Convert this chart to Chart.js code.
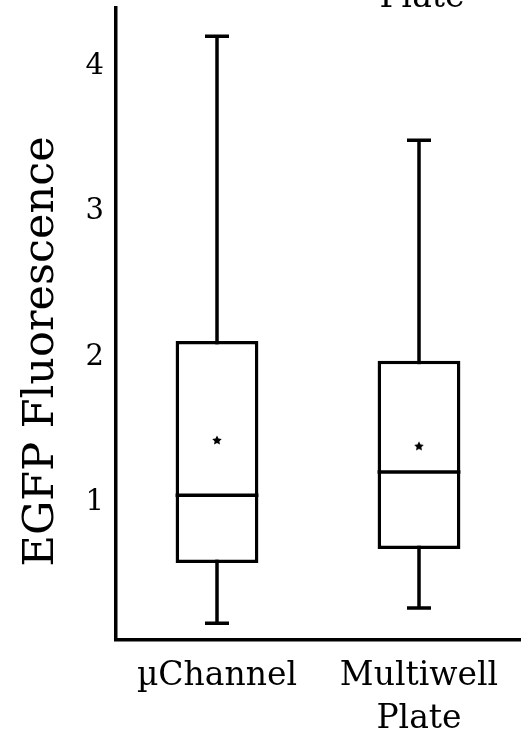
<!DOCTYPE html>
<html>
<head>
<meta charset="utf-8">
<script src="https://cdn.jsdelivr.net/npm/chart.js@4"></script>
<style>
  html, body { margin: 0; padding: 0; background: #fff; }
  #wrap { width: 532px; height: 736px; }
</style>
</head>
<body>
<div id="wrap"><canvas id="boxCanvas" width="532" height="736"></canvas></div>
<script>
// 카테고리
const categories = ['µChannel', ['Multiwell', 'Plate']];
// 박스플롯 값
const whiskerLow = [0.17, 0.275];
const q1 = [0.585, 0.68];
const median = [1.05, 1.21];
const q3 = [2.11, 1.975];
const whiskerHigh = [4.205, 3.49];
const mean = [1.43, 1.39];
// y축 눈금
const yTicks = [1, 2, 3, 4];

const serif = "'DejaVu Serif', serif";
const lineW = 3.5;
Chart.defaults.color = '#000';

// 평균 표시용 채워진 별
function makeStar(size) {
    const c = document.createElement('canvas');
    c.width = size;
    c.height = size;
    const g = c.getContext('2d');
    const r = size / 2, ri = r * 0.5;
    g.beginPath();
    for (let k = 0; k < 10; k++) {
        const rad = k % 2 === 0 ? r : ri;
        const a = -Math.PI / 2 + k * Math.PI / 5;
        const px = r + rad * Math.cos(a);
        const py = r + rad * Math.sin(a) + 0.5;
        if (k === 0) g.moveTo(px, py); else g.lineTo(px, py);
    }
    g.closePath();
    g.fillStyle = '#000';
    g.fill();
    return c;
}
const starImg = makeStar(10);

// 수염, 중앙값 그리는 플러그인
const boxExtras = {
    id: 'boxExtras',
    beforeDatasetsDraw(chart) {
        const ctx = chart.ctx;
        const x = chart.scales.x;
        const y = chart.scales.y;
        ctx.save();
        ctx.strokeStyle = '#000';
        ctx.lineWidth = lineW;
        for (let i = 0; i < categories.length; i++) {
            const cx = x.getPixelForValue(i);
            const lo = y.getPixelForValue(whiskerLow[i]);
            const hi = y.getPixelForValue(whiskerHigh[i]);
            ctx.beginPath();
            ctx.moveTo(cx, lo);
            ctx.lineTo(cx, hi);
            ctx.moveTo(cx - 12, lo);
            ctx.lineTo(cx + 12, lo);
            ctx.moveTo(cx - 12, hi);
            ctx.lineTo(cx + 12, hi);
            ctx.stroke();
        }
        ctx.restore();
    },
    afterDatasetsDraw(chart) {
        const ctx = chart.ctx;
        const x = chart.scales.x;
        const y = chart.scales.y;
        const meta = chart.getDatasetMeta(0);
        ctx.save();
        ctx.strokeStyle = '#000';
        ctx.lineWidth = lineW;
        for (let i = 0; i < categories.length; i++) {
            const bar = meta.data[i];
            const half = bar.width / 2;
            const cx = x.getPixelForValue(i);
            const my = y.getPixelForValue(median[i]);
            ctx.beginPath();
            ctx.moveTo(cx - half, my);
            ctx.lineTo(cx + half, my);
            ctx.stroke();
        }
        // 위쪽에 잘린 "Plate" 글자
        ctx.fillStyle = '#000';
        ctx.font = "33px " + serif;
        ctx.textAlign = 'center';
        ctx.textBaseline = 'alphabetic';
        ctx.fillText('Plate', 422, 7);
        ctx.restore();
    }
};

const ctx = document.getElementById('boxCanvas').getContext('2d');
new Chart(ctx, {
    data: {
        labels: categories,
        datasets: [{
            type: 'bar',
            data: q1.map((v, i) => [v, q3[i]]),
            backgroundColor: '#fff',
            borderColor: '#000',
            borderWidth: lineW,
            borderSkipped: false,
            barPercentage: 0.41,
            categoryPercentage: 1,
            order: 2
        }, {
            type: 'line',
            data: mean,
            showLine: false,
            pointStyle: starImg,
            pointRadius: 5,
            order: 1
        }]
    },
    options: {
        responsive: false,
        animation: false,
        layout: { padding: { top: 8, right: 12, left: 0, bottom: 0 } },
        plugins: {
            legend: { display: false },
            tooltip: { enabled: false }
        },
        scales: {
            x: {
                grid: { display: false, drawTicks: false },
                border: { display: true, color: '#000', width: lineW },
                ticks: {
                    font: { family: serif, size: 33, lineHeight: 1.33 },
                    padding: 14,
                    maxRotation: 0,
                    autoSkip: false
                },
                afterFit: s => { s.height = 96; s.paddingLeft = 0; s.paddingRight = 0; }
            },
            y: {
                min: 0.055,
                max: 4.40,
                grid: { display: false, drawTicks: false },
                border: { display: true, color: '#000', width: lineW },
                afterBuildTicks: s => { s.ticks = yTicks.map(v => ({ value: v })); },
                ticks: {
                    font: { family: serif, size: 29 },
                    padding: 12
                },
                title: {
                    display: true,
                    text: 'EGFP Fluorescence    ',
                    font: { family: serif, size: 43 },
                    padding: { top: 16, bottom: 0 }
                },
                afterFit: s => { s.width = 116; s.paddingTop = 0; s.paddingBottom = 0; }
            }
        }
    },
    plugins: [boxExtras]
});
</script>
</body>
</html>
